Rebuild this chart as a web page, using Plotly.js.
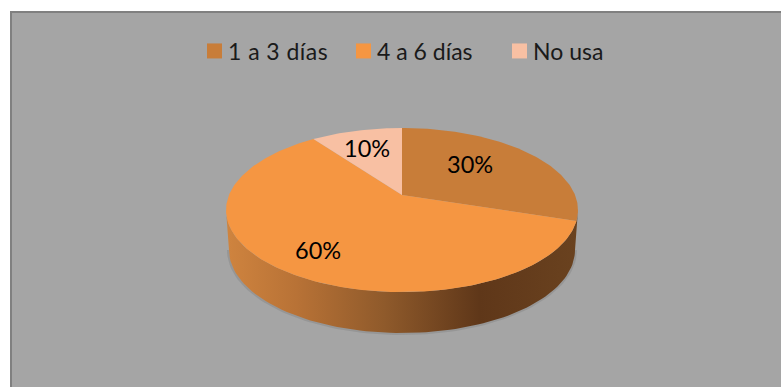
<!DOCTYPE html>
<html>
<head>
<meta charset="utf-8">
<script src="https://cdn.plot.ly/plotly-3.0.1.min.js"></script>
<style>
html,body{margin:0;padding:0;background:#fff}
#chart{width:781px;height:387px}
.legendtext{letter-spacing:0.45px}
.infolayer .scrollbox{clip-path:none !important}
.legendpoints .scatterpts{transform:translate(26.5px,0)}
</style>
</head>
<body>
<div id="chart"></div>
<script>
// Usage frequency shares, drawn as a tilted disc
const categories = ['1 a 3 días', '4 a 6 días', 'No usa'];
const shares = [30, 60, 10];
const sliceColors = ['#c87d39', '#f59642', '#f8c0a3'];

// Disc projection, in pixels on a 781x387 canvas
const apex = {x: 402, y: 195};
const scaleU = 173, scaleV = 79.3, tilt = 0.183;
const wall = {cx: 402, cy: 250, rx: 173, ry: 83};
const top_ = {cx: 402, cy: 210, rx: 176, ry: 82};

function project(deg) {
  const a = deg * Math.PI / 180;
  const u = Math.sin(a), v = Math.cos(a);
  const d = 1 + tilt * v;
  return [apex.x + scaleU * u / d, apex.y - scaleV * v / d];
}

function sliceOutline(from, to) {
  const xs = [apex.x], ys = [apex.y];
  for (let d = from; d <= to + 1e-6; d += 1) {
    const p = project(d);
    xs.push(p[0]); ys.push(p[1]);
  }
  xs.push(apex.x); ys.push(apex.y);
  return {xs, ys};
}

function wallOutline() {
  const xs = [], ys = [];
  for (let d = 0; d <= 180; d += 2) {
    const a = d * Math.PI / 180;
    xs.push(top_.cx + top_.rx * Math.cos(a));
    ys.push(top_.cy + top_.ry * Math.sin(a));
  }
  for (let d = 180; d >= 0; d -= 2) {
    const a = d * Math.PI / 180;
    xs.push(wall.cx + wall.rx * Math.cos(a));
    ys.push(wall.cy + wall.ry * Math.sin(a));
  }
  return {xs, ys};
}

function rimOutline() {
  const xs = [], ys = [];
  for (let d = 0; d <= 180; d += 2) {
    const a = d * Math.PI / 180;
    xs.push(wall.cx + wall.rx * Math.cos(a));
    ys.push(wall.cy + wall.ry * Math.sin(a));
  }
  return {xs, ys};
}

const traces = [];

// soft contact shadow around the rim
const rim = rimOutline();
traces.push({type: 'scatter', mode: 'lines', x: rim.xs, y: rim.ys, showlegend: false, hoverinfo: 'skip',
  line: {color: 'rgba(85,85,85,0.18)', width: 4}});

// side wall with its left-to-right shading
const w = wallOutline();
traces.push({type: 'scatter', mode: 'lines', x: w.xs, y: w.ys, fill: 'toself', showlegend: false, hoverinfo: 'skip',
  line: {width: 0, color: 'rgba(0,0,0,0)'},
  fillgradient: {type: 'horizontal', colorscale: [
    [0, '#cf843f'], [0.2, '#b87236'], [0.45, '#8f5a2b'], [0.72, '#5f3719'], [1, '#6a421f']
  ]}});

// top faces, clockwise from twelve o'clock
let start = 0;
shares.forEach((s, i) => {
  const end = start + s * 3.6;
  const o = sliceOutline(start, end);
  traces.push({type: 'scatter', mode: 'lines', x: o.xs, y: o.ys, fill: 'toself', fillcolor: sliceColors[i],
    line: {width: 0, color: sliceColors[i]}, showlegend: false, hoverinfo: 'skip'});
  start = end;
});

// legend entries, each with its own legend box
const legendIds = ['legend', 'legend2', 'legend3'];
categories.forEach((c, i) => {
  traces.push({type: 'scatter', mode: 'markers', x: [null], y: [null], name: c, legend: legendIds[i],
    marker: {symbol: 'square', size: 15, color: sliceColors[i]}});
});

const labelFont = {family: 'Lato, Carlito, sans-serif', size: 23.5, color: '#000'};
const labelSpots = [[470, 164], [318, 250], [367, 148]];

const legendFont = {family: 'Lato, Carlito, sans-serif', size: 23, color: '#1a1a1a'};
const legendLefts = [188, 337, 493];
function legendBox(i) {
  return {x: legendLefts[i] / 781, xanchor: 'left', y: 1 - 51 / 387, yanchor: 'middle',
    bgcolor: 'rgba(0,0,0,0)', borderwidth: 0, font: legendFont};
}

const layout = {
  width: 781, height: 387,
  margin: {l: 0, r: 0, t: 0, b: 0},
  paper_bgcolor: '#ffffff',
  plot_bgcolor: 'rgba(0,0,0,0)',
  xaxis: {range: [0, 781], visible: false, fixedrange: true},
  yaxis: {range: [387, 0], visible: false, fixedrange: true},
  showlegend: true,
  legend: legendBox(0),
  legend2: legendBox(1),
  legend3: legendBox(2),
  shapes: [{type: 'rect', layer: 'below', xref: 'x', yref: 'y', x0: 11, y0: 12, x1: 790, y1: 395,
    fillcolor: '#a5a5a5', line: {color: '#808080', width: 2}}],
  annotations: shares.map((s, i) => ({
    x: labelSpots[i][0], y: labelSpots[i][1], xref: 'x', yref: 'y', text: s + '%', showarrow: false, font: labelFont
  }))
};

Plotly.newPlot('chart', traces, layout, {displayModeBar: false, staticPlot: true});
</script>
</body>
</html>
